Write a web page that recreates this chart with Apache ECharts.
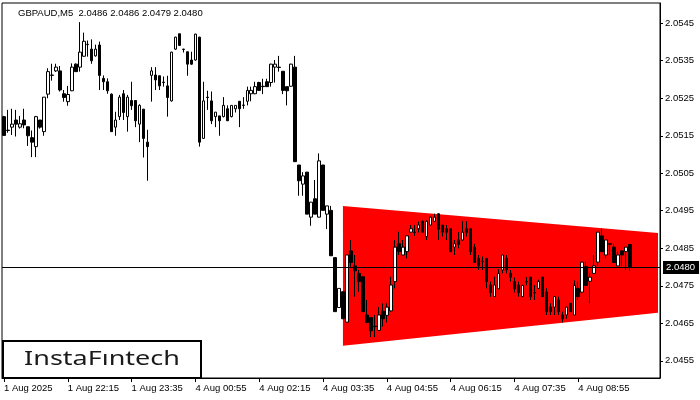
<!DOCTYPE html>
<html><head><meta charset="utf-8">
<script src="https://cdn.jsdelivr.net/npm/echarts@6/dist/echarts.min.js"></script>
<style>html,body{margin:0;padding:0;background:#fff}#c{width:700px;height:400px}</style>
</head><body><div id="c"></div>
<script>
const symbolTitle = 'GBPAUD,M5  2.0486 2.0486 2.0479 2.0480';
const tickLabels = ['1 Aug 2025','1 Aug 22:15','1 Aug 23:35','4 Aug 00:55','4 Aug 02:15','4 Aug 03:35','4 Aug 04:55','4 Aug 06:15','4 Aug 07:35','4 Aug 08:55'];
const tickIndexes = [0,16,32,48,64,80,96,112,128,144];
const priceTicks = [2.0455,2.0465,2.0475,2.0485,2.0495,2.0505,2.0515,2.0525,2.0535,2.0545];
const slotCount = 165;
const lastPrice = 2.0480;

const opens = [2.05201,2.05165,2.05173,2.05192,2.05173,2.05192,2.05174,2.05145,2.05121,2.05192,
2.05161,2.05261,2.05311,2.05323,2.05323,2.05262,2.05241,2.05270,2.05341,2.05333,
2.05362,2.05393,2.05381,2.05363,2.05392,2.05303,2.05294,2.05261,2.05173,2.05201,
2.05262,2.05201,2.05244,2.05244,2.05181,2.05221,2.05133,2.05311,2.05312,2.05310,
2.05293,2.05283,2.05243,2.05381,2.05422,2.05381,2.05374,2.05352,2.05352,2.05413,
2.05143,2.05253,2.05243,2.05201,2.05203,2.05201,2.05222,2.05201,2.05222,2.05242,
2.05231,2.05242,2.05262,2.05262,2.05292,2.05282,2.05294,2.05292,2.05333,2.05333,
2.05322,2.05281,2.05282,2.05333,2.05072,2.05021,2.05053,2.04933,2.04982,2.04933,
2.05072,2.04941,2.04951,2.04825,2.04692,2.04734,2.04653,2.04843,2.04803,2.04783,
2.04774,2.04672,2.04665,2.04642,2.04631,2.04682,2.04671,2.04683,2.04761,2.04862,
2.04832,2.04841,2.04893,2.04893,2.04902,2.04922,2.04881,2.04912,2.04922,2.04942,
2.04912,2.04902,2.04902,2.04853,2.04872,2.04872,2.04902,2.04902,2.04853,2.04823,
2.04815,2.04823,2.04752,2.04721,2.04742,2.04792,2.04823,2.04783,2.04761,2.04752,
2.04721,2.04761,2.04773,2.04732,2.04743,2.04773,2.04733,2.04693,2.04693,2.04712,
2.04672,2.04672,2.04703,2.04672,2.04743,2.04733,2.04801,2.04762,2.04783,2.04813,
2.04883,2.04832,2.04862,2.04853,2.04803,2.04843,2.04841,2.04860];
const closes = [2.05151,2.05164,2.05181,2.05181,2.05182,2.05179,2.05150,2.05133,2.05201,2.05173,
2.05253,2.05321,2.05312,2.05333,2.05272,2.05252,2.05260,2.05333,2.05321,2.05373,
2.05402,2.05394,2.05350,2.05381,2.05311,2.05294,2.05270,2.05161,2.05192,2.05253,
2.05212,2.05253,2.05230,2.05190,2.05231,2.05143,2.05121,2.05323,2.05299,2.05283,
2.05292,2.05252,2.05373,2.05413,2.05391,2.05380,2.05341,2.05341,2.05421,2.05133,
2.05243,2.05252,2.05190,2.05213,2.05190,2.05231,2.05190,2.05231,2.05231,2.05222,
2.05232,2.05271,2.05271,2.05281,2.05271,2.05281,2.05281,2.05341,2.05341,2.05332,
2.05271,2.05270,2.05341,2.05081,2.05030,2.05043,2.04941,2.04973,2.04941,2.05083,
2.04951,2.04963,2.04830,2.04681,2.04743,2.04662,2.04832,2.04812,2.04790,2.04761,
2.04681,2.04652,2.04630,2.04641,2.04672,2.04662,2.04693,2.04752,2.04853,2.04841,
2.04853,2.04883,2.04902,2.04892,2.04912,2.04893,2.04922,2.04933,2.04933,2.04901,
2.04893,2.04893,2.04841,2.04862,2.04860,2.04893,2.04892,2.04841,2.04812,2.04803,
2.04814,2.04761,2.04732,2.04752,2.04783,2.04832,2.04792,2.04773,2.04742,2.04732,
2.04751,2.04760,2.04721,2.04731,2.04761,2.04721,2.04681,2.04681,2.04721,2.04681,
2.04662,2.04693,2.04681,2.04751,2.04721,2.04813,2.04751,2.04773,2.04803,2.04893,
2.04841,2.04872,2.04861,2.04812,2.04832,2.04832,2.04853,2.04800];
const lows = [2.05150,2.05158,2.05152,2.05148,2.05169,2.05170,2.05123,2.05093,2.05093,2.05169,
2.05150,2.05250,2.05297,2.05320,2.05268,2.05241,2.05230,2.05269,2.05321,2.05321,
2.05361,2.05361,2.05342,2.05361,2.05272,2.05272,2.05262,2.05161,2.05150,2.05192,
2.05192,2.05161,2.05219,2.05173,2.05133,2.05092,2.05030,2.05241,2.05272,2.05272,
2.05281,2.05201,2.05241,2.05379,2.05390,2.05372,2.05310,2.05339,2.05350,2.05121,
2.05142,2.05219,2.05181,2.05173,2.05150,2.05199,2.05190,2.05199,2.05212,2.05173,
2.05222,2.05231,2.05242,2.05261,2.05270,2.05261,2.05281,2.05281,2.05292,2.05321,
2.05261,2.05231,2.05281,2.05081,2.04990,2.04990,2.04941,2.04910,2.04941,2.04932,
2.04951,2.04901,2.04830,2.04681,2.04692,2.04662,2.04653,2.04801,2.04721,2.04734,
2.04681,2.04650,2.04613,2.04613,2.04630,2.04641,2.04652,2.04681,2.04743,2.04832,
2.04831,2.04823,2.04892,2.04883,2.04892,2.04893,2.04872,2.04911,2.04921,2.04872,
2.04881,2.04872,2.04841,2.04832,2.04850,2.04870,2.04881,2.04832,2.04812,2.04792,
2.04792,2.04743,2.04721,2.04721,2.04742,2.04783,2.04783,2.04761,2.04732,2.04721,
2.04721,2.04751,2.04712,2.04712,2.04742,2.04721,2.04672,2.04672,2.04672,2.04672,
2.04652,2.04662,2.04681,2.04672,2.04712,2.04730,2.04751,2.04703,2.04783,2.04803,
2.04841,2.04823,2.04832,2.04812,2.04803,2.04803,2.04792,2.04790];
const highs = [2.05203,2.05219,2.05222,2.05219,2.05203,2.05222,2.05174,2.05164,2.05203,2.05192,
2.05253,2.05330,2.05342,2.05342,2.05336,2.05272,2.05283,2.05343,2.05343,2.05453,
2.05425,2.05404,2.05407,2.05393,2.05401,2.05311,2.05303,2.05263,2.05214,2.05259,
2.05272,2.05259,2.05294,2.05244,2.05234,2.05221,2.05166,2.05333,2.05333,2.05310,
2.05308,2.05310,2.05374,2.05414,2.05422,2.05382,2.05374,2.05374,2.05422,2.05414,
2.05294,2.05270,2.05268,2.05213,2.05203,2.05253,2.05231,2.05231,2.05231,2.05242,
2.05253,2.05281,2.05281,2.05294,2.05294,2.05302,2.05302,2.05342,2.05352,2.05363,
2.05322,2.05281,2.05342,2.05363,2.05072,2.05053,2.05053,2.04973,2.05032,2.05103,
2.05072,2.04963,2.04963,2.04825,2.04743,2.04734,2.04832,2.04872,2.04832,2.04792,
2.04774,2.04712,2.04665,2.04672,2.04693,2.04703,2.04703,2.04774,2.04872,2.04894,
2.04872,2.04883,2.04912,2.04912,2.04921,2.04924,2.04924,2.04934,2.04942,2.04942,
2.04912,2.04912,2.04902,2.04872,2.04893,2.04922,2.04922,2.04902,2.04862,2.04832,
2.04828,2.04823,2.04761,2.04774,2.04794,2.04832,2.04832,2.04792,2.04772,2.04761,
2.04751,2.04773,2.04773,2.04752,2.04766,2.04773,2.04743,2.04703,2.04723,2.04721,
2.04681,2.04693,2.04703,2.04764,2.04761,2.04814,2.04814,2.04783,2.04832,2.04893,
2.04902,2.04872,2.04862,2.04862,2.04841,2.04843,2.04853,2.04860];

// triangle pattern corners: [candle index, price]
const triangleCorners = [[85, 2.04963], [164, 2.04891], [164, 2.04678], [85, 2.04590]];

const slots = [];
for (let i = 0; i < slotCount; i++) slots.push(String(i));
const candles = opens.map((o, i) => [o, closes[i], lows[i], highs[i]]);
const showTick = (idx) => tickIndexes.indexOf(idx) >= 0;
const FONT = '"Liberation Sans", Arial, sans-serif';

const chart = echarts.init(document.getElementById('c'), null, {renderer: 'canvas'});
chart.setOption({
  animation: false,
  backgroundColor: '#fff',
  grid: {left: 2, right: 40, top: 3, bottom: 22, show: true, borderColor: '#000', borderWidth: 1},
  xAxis: {
    type: 'category', data: slots, boundaryGap: true,
    axisLine: {show: true, lineStyle: {color: '#000', width: 1}},
    axisTick: {show: true, interval: (i) => showTick(i), alignWithLabel: true, length: 4, lineStyle: {color: '#000'}},
    axisLabel: {interval: (i) => showTick(i), align: 'left', margin: 5, color: '#000', fontSize: 9.5, fontFamily: FONT,
      formatter: (v, i) => { const k = tickIndexes.indexOf(Number(v)); return k >= 0 ? tickLabels[k] : ''; }},
    splitLine: {show: false}
  },
  yAxis: {
    type: 'value', position: 'right', min: 2.04504, max: 2.05504, scale: true,
    axisLine: {show: true, lineStyle: {color: '#000', width: 1}},
    axisTick: {show: true, customValues: priceTicks, length: 3, lineStyle: {color: '#000'}},
    axisLabel: {customValues: priceTicks, margin: 5, color: '#000', fontSize: 9.5, fontFamily: FONT,
      formatter: (v) => Number(v).toFixed(4)},
    splitLine: {show: false}
  },
  graphic: [
    {type: 'text', left: 18, top: 8, z: 100, style: {text: symbolTitle, fill: '#000', font: '9.5px ' + FONT}},
    {type: 'rect', z: 100, shape: {x: 3, y: 341, width: 198, height: 37}, style: {fill: '#fff', stroke: '#000', lineWidth: 2}},
    {type: 'text', z: 101, x: 102, y: 360, scaleX: 1.42, style: {text: 'InstaFıntech', fill: '#1a1a1a', font: '19px "Noto Sans", sans-serif', align: 'center', verticalAlign: 'middle'}}
  ],
  series: [
    {
      type: 'custom', z: 1, silent: true, data: [[triangleCorners[0][0], triangleCorners[0][1]]],
      renderItem: (params, api) => ({
        type: 'polygon',
        shape: {points: triangleCorners.map(p => api.coord(p))},
        style: {fill: '#ff0000'}
      })
    },
    {
      type: 'candlestick', z: 3, data: candles, barWidth: 3,
      itemStyle: {color: '#fff', color0: '#000', borderColor: '#000', borderColor0: '#000', borderWidth: 1}
    },
    {
      type: 'custom', z: 4, silent: true, clip: false, data: [[0, lastPrice]],
      renderItem: (params, api) => {
        const cs = params.coordSys;
        const y = Math.round(api.coord([0, lastPrice])[1]) + 0.5;
        return {
          type: 'group',
          children: [
            {type: 'line', shape: {x1: cs.x, y1: y, x2: cs.x + cs.width, y2: y}, style: {stroke: '#000', lineWidth: 1}},
            {type: 'text', x: cs.x + cs.width + 3, y: y,
              style: {text: lastPrice.toFixed(4), fill: '#fff', backgroundColor: '#000', padding: [2, 4, 1, 3],
                font: '9.5px ' + FONT, verticalAlign: 'middle', align: 'left'}}
          ]
        };
      }
    }
  ]
});
</script></body></html>
